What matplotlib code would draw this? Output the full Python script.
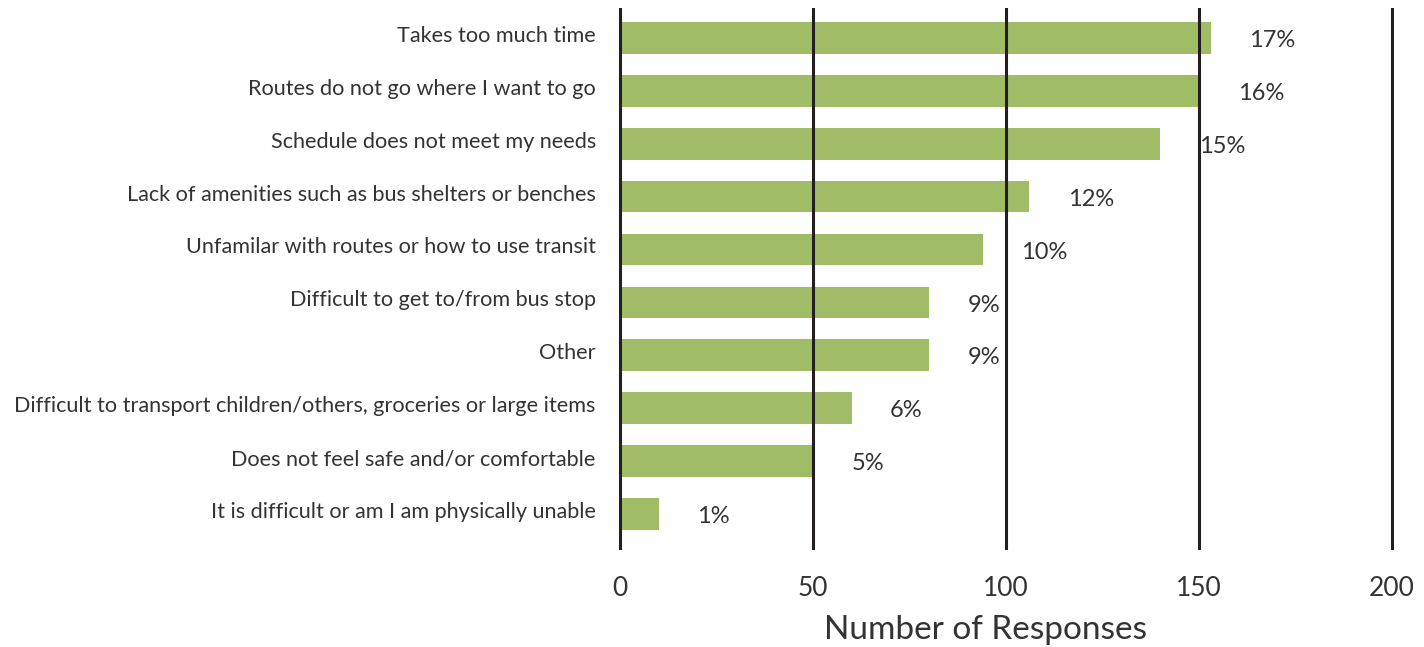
import numpy as np
import matplotlib.pyplot as plt
import matplotlib.transforms as mtransforms

plt.rcParams['font.family'] = ['Lato', 'DejaVu Sans']

# survey data
reasons = [
    'Takes too much time',
    'Routes do not go where I want to go',
    'Schedule does not meet my needs',
    'Lack of amenities such as bus shelters or benches',
    'Unfamilar with routes or how to use transit',
    'Difficult to get to/from bus stop',
    'Other',
    'Difficult to transport children/others, groceries or large items',
    'Does not feel safe and/or comfortable',
    'It is difficult or am I am physically unable',
]
responses = [153, 150, 140, 106, 94, 80, 80, 60, 50, 10]
percents = ['17%', '16%', '15%', '12%', '10%', '9%', '9%', '6%', '5%', '1%']
xticks = [0, 50, 100, 150, 200]

bar_color = '#a1bc66'
line_color = '#231f20'
text_color = '#333333'

fig = plt.figure(figsize=(14.24, 6.47), dpi=100)
ax = fig.add_axes([0.434, 0.150, 0.545, 0.838])

y = np.arange(len(reasons))
ax.barh(y, responses, height=0.6, color=bar_color, zorder=1)

# vertical grid lines sit on top of the bars
for xv in xticks:
    ax.axvline(xv, color=line_color, lw=2.2, zorder=2)

for yi, val, pct in zip(y, responses, percents):
    ax.text(val + 10, yi + 0.05, pct, ha='left', va='center', fontsize=17,
            color=text_color, zorder=3)

ax.set_xlim(-0.5, 200.5)
ax.set_ylim(9.68, -0.57)
ax.set_yticks(y)
ax.set_yticklabels(reasons, fontsize=15.6, color=text_color)
ax.set_xticks(xticks)
ax.set_xticklabels([str(t) for t in xticks], fontsize=19, color=text_color)
ax.tick_params(axis='both', length=0)
ax.tick_params(axis='y', pad=16)
ax.tick_params(axis='x', pad=19)
ax.set_xlabel('Number of Responses', fontsize=24, color=text_color,
              labelpad=10)
ax.xaxis.label.set_x(0.474)

# category labels sit a little above the bar centres
shift = mtransforms.ScaledTranslation(0, 4 / 100, fig.dpi_scale_trans)
for lab in ax.get_yticklabels():
    lab.set_transform(lab.get_transform() + shift)

for s in ax.spines.values():
    s.set_visible(False)

fig.savefig('out.png', dpi=100)
